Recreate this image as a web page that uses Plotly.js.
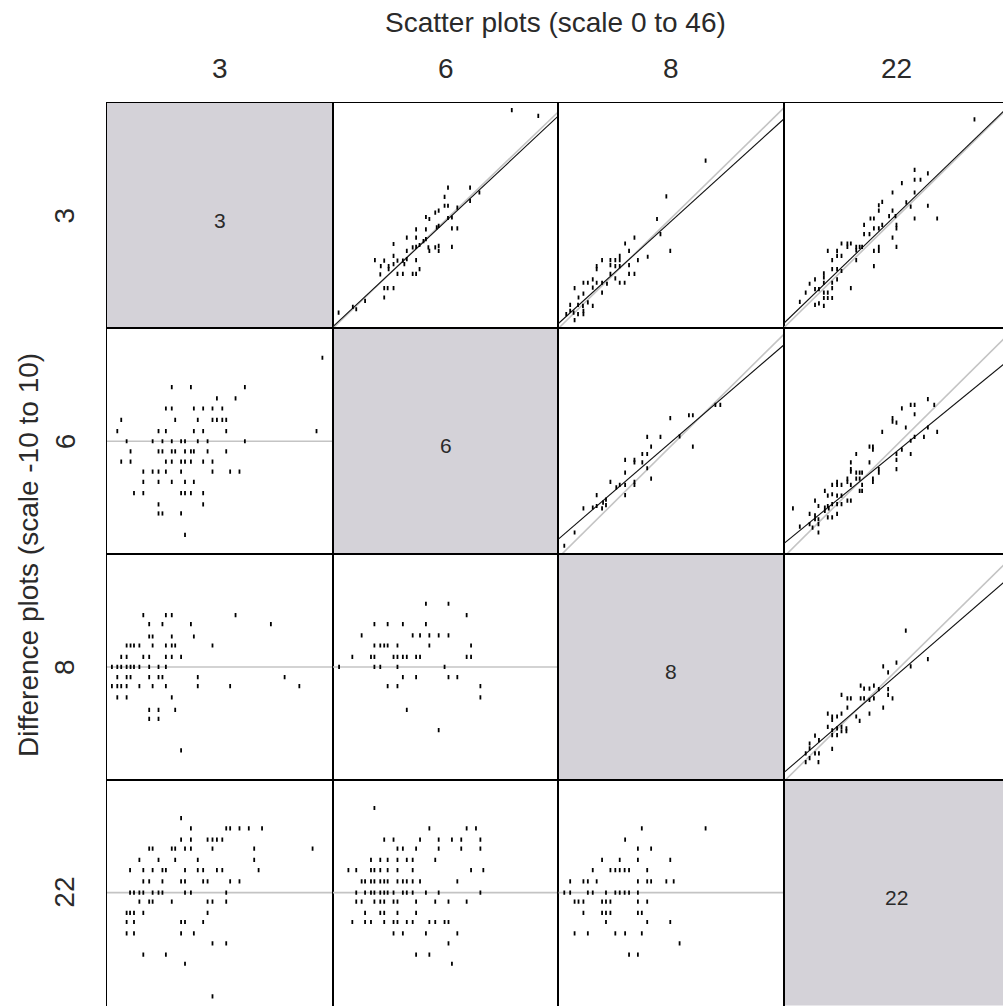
<!DOCTYPE html>
<html><head><meta charset="utf-8">
<script src="https://cdn.plot.ly/plotly-3.0.1.min.js"></script>
<style>html,body{margin:0;padding:0;overflow:hidden;background:#fff}#chart{width:1010px;height:1010px}</style>
</head><body><div id="chart"></div>
<script>
// ---------- labels ----------
const raters = ['3', '6', '8', '22'];
const topTitle = 'Scatter plots (scale 0 to 46)';
const sideTitle = 'Difference plots (scale -10 to 10)';
const scatterRange = [0, 46];
const diffRange = [-10, 10];

// ---------- scatter panels (upper triangle): [x, y] ----------
const sc_3_6 = [[36.5,44.5],[41.9,43.3],[23.5,28.7],[22.8,26.8],[22.8,25.0],[23.5,25.0],[28.0,28.7],[28.0,26.0],[29.9,27.7],[25.4,24.6],
[19.0,22.7],[19.7,22.3],[20.9,23.6],[21.6,24.0],[23.5,22.5],[24.3,22.6],[21.6,20.9],[21.2,20.6],[17.0,20.2],[17.0,18.5],
[19.0,20.2],[24.3,20.4],[25.4,20.4],[15.1,18.5],[12.4,17.2],[17.0,16.6],[17.7,17.0],[18.5,17.8],[19.0,18.2],[19.5,16.5],
[19.7,15.8],[16.3,16.5],[21.6,16.8],[21.6,15.8],[20.9,16.5],[24.3,16.6],[12.4,14.8],[15.1,15.8],[13.2,13.8],[14.3,13.8],
[14.6,13.1],[15.1,14.1],[8.6,13.9],[10.5,13.8],[9.8,12.7],[11.4,12.7],[11.4,12.1],[12.4,13.1],[9.7,11.0],[13.2,11.1],
[14.3,11.1],[16.3,11.1],[17.0,11.1],[17.7,12.1],[17.0,13.9],[10.5,8.2],[11.2,8.2],[12.4,8.2],[10.5,6.3],[1.2,3.2],
[4.1,4.4],[6.6,5.6],[4.8,3.9]];
const sc_3_8 = [[30.0,34.2],[22.0,26.9],[20.1,22.3],[20.8,19.2],[22.8,15.8],[15.5,18.5],[13.6,17.3],[18.2,14.6],[16.2,13.9],[14.4,15.8],
[12.5,14.8],[12.5,13.9],[11.6,13.9],[10.6,13.9],[10.6,12.9],[11.6,12.7],[12.5,12.7],[8.9,13.9],[7.8,12.7],[7.8,12.1],
[14.4,12.9],[14.4,11.1],[15.5,11.1],[10.6,11.1],[11.6,10.2],[12.5,9.3],[13.5,9.3],[7.0,10.0],[7.8,9.3],[8.9,9.3],
[6.0,9.3],[5.1,9.3],[8.9,7.3],[7.0,8.3],[3.3,8.2],[5.1,7.1],[4.1,6.3],[6.0,5.3],[7.0,4.6],[5.0,4.6],
[4.0,4.8],[2.4,4.8],[2.4,3.6],[3.1,3.2],[4.0,2.9],[5.1,2.9],[5.1,3.6],[3.3,1.7],[1.6,2.9],[9.9,9.1]];
const sc_3_22 = [[38.8,42.6],[26.6,32.3],[26.6,30.3],[27.8,30.3],[29.3,31.6],[24.0,29.6],[22.1,27.7],[26.6,27.7],[20.0,25.8],[19.3,25.1],
[19.3,24.0],[22.1,24.0],[21.4,22.9],[22.7,22.9],[24.9,25.7],[25.8,24.8],[29.3,25.0],[26.6,22.4],[31.2,22.4],[18.3,22.4],
[17.6,22.4],[16.3,21.1],[16.3,19.2],[17.4,19.2],[18.3,20.4],[19.3,20.4],[20.0,21.1],[22.9,21.1],[22.9,20.4],[22.1,18.5],
[22.9,16.6],[11.7,17.3],[12.9,17.3],[13.6,17.3],[12.9,16.6],[14.7,16.6],[15.4,16.6],[15.9,16.6],[14.7,15.9],[19.3,16.6],
[19.3,15.8],[18.3,15.8],[8.9,15.8],[10.8,15.8],[10.8,14.8],[11.7,14.8],[9.8,13.9],[14.7,13.9],[18.3,12.7],[10.8,12.1],
[9.8,12.1],[11.7,11.7],[8.1,11.2],[8.1,10.4],[6.3,10.0],[5.2,9.1],[10.8,10.0],[9.8,9.3],[8.1,9.3],[13.6,8.2],
[4.4,7.3],[6.3,8.0],[7.1,8.0],[8.1,7.3],[8.9,7.3],[9.8,8.2],[8.1,6.2],[8.9,6.2],[9.8,6.2],[3.2,5.4],
[6.3,4.8],[7.1,5.1],[8.1,4.6]];
const sc_6_8 = [[32.0,30.4],[33.0,30.4],[26.6,28.3],[27.4,28.3],[22.8,27.7],[27.4,21.9],[24.7,24.0],[20.8,23.9],[18.1,23.9],[18.9,21.9],
[17.1,20.4],[18.1,20.4],[13.6,19.2],[15.5,19.2],[15.5,18.7],[17.1,18.7],[18.1,17.5],[13.6,16.6],[18.9,15.4],[15.5,14.7],
[15.5,14.1],[10.6,14.7],[13.6,14.1],[11.8,13.6],[12.5,14.1],[13.6,12.0],[7.8,12.0],[9.7,11.1],[9.1,10.5],[9.7,10.0],
[8.9,9.3],[7.8,9.8],[7.0,9.5],[5.1,9.3],[3.3,4.4],[1.2,1.7]];
const sc_6_22 = [[29.3,31.6],[30.6,30.4],[24.0,29.7],[25.8,30.4],[26.6,30.4],[26.6,28.5],[22.1,27.7],[22.1,27.0],[22.9,26.8],[20.0,24.9],
[24.8,25.8],[29.3,25.8],[31.2,24.9],[28.5,23.9],[25.8,23.1],[26.6,23.9],[24.0,21.3],[25.8,20.4],[22.9,20.4],[22.9,19.2],
[22.9,17.3],[17.4,21.9],[18.1,21.9],[18.1,21.3],[14.7,20.4],[13.6,18.7],[13.6,17.3],[13.6,16.8],[17.4,18.7],[19.3,17.3],
[19.3,16.6],[14.7,16.6],[15.4,16.6],[15.9,16.6],[14.7,15.4],[15.4,15.4],[18.1,15.4],[18.1,14.7],[12.9,15.4],[12.9,14.7],
[13.6,14.1],[10.8,14.7],[10.8,14.1],[11.7,14.1],[15.9,14.1],[15.9,12.9],[15.4,12.9],[9.8,14.1],[8.3,12.9],[11.7,11.9],
[10.8,11.9],[9.8,12.2],[8.9,11.9],[12.9,10.9],[13.6,10.9],[6.3,10.9],[10.8,10.2],[11.7,10.2],[9.8,10.2],[8.9,9.8],
[8.3,9.5],[7.0,9.8],[8.3,8.8],[9.1,9.3],[8.9,7.5],[9.8,7.5],[10.8,8.2],[5.2,8.2],[6.3,7.9],[1.8,9.3],
[7.0,7.1],[6.3,7.1],[3.2,5.6],[5.2,6.1],[5.8,5.4],[7.0,6.1],[7.0,4.4]];
const sc_8_22 = [[24.8,30.4],[29.3,24.6],[22.9,23.9],[25.8,23.1],[20.2,23.1],[21.2,21.9],[15.6,19.2],[16.3,18.6],[17.4,18.6],[18.3,19.2],
[19.3,18.5],[21.2,18.5],[21.2,17.3],[22.1,16.6],[11.7,17.3],[12.9,16.6],[13.6,16.6],[15.6,16.6],[16.3,16.6],[17.4,16.3],
[18.3,16.6],[20.2,14.7],[12.9,14.7],[8.9,13.5],[9.8,12.9],[9.8,12.2],[11.7,13.5],[10.8,12.9],[14.7,12.9],[17.4,13.5],
[15.4,12.0],[8.9,10.8],[9.8,10.1],[10.8,10.5],[11.7,10.8],[12.7,10.5],[12.7,9.9],[11.7,9.9],[10.8,9.1],[9.8,9.1],
[6.3,9.0],[7.1,8.1],[5.2,7.4],[5.2,6.4],[4.4,5.4],[6.3,5.4],[7.1,5.4],[9.8,6.3],[4.4,3.6],[7.0,3.6],[5.2,4.4]];

// reference (grey) and fitted (black) lines: [intercept, slope]
const ref_3_6 = [0.0, 0.960],  fit_3_6 = [0.3, 0.935];
const ref_3_8 = [0.0, 0.978],  fit_3_8 = [1.0, 0.907];
const ref_3_22 = [0.2, 0.980], fit_3_22 = [1.1, 0.965];
const ref_6_8 = [-0.7, 0.990], fit_6_8 = [3.06, 0.861];
const ref_6_22 = [-0.53, 0.992], fit_6_22 = [2.2, 0.816];
const ref_8_22 = [-0.3, 0.985], fit_8_22 = [1.5, 0.865];

// ---------- difference panels (lower triangle): [mean, difference] ----------
const df_6_3 = [[43.9,7.4],[13.2,4.8],[17.1,4.8],[28.1,4.8],[22.4,3.8],[26.2,3.8],
[12.0,2.9],[13.2,2.9],[17.7,2.9],[19.6,2.9],[21.5,2.9],[23.5,2.9],
[2.9,1.9],[13.9,1.9],[18.5,1.9],[21.5,1.9],[22.4,1.9],[23.5,1.9],[24.3,1.9],
[2.1,0.9],[10.5,0.9],[12.0,0.9],[17.7,0.9],[19.6,0.9],[24.3,0.9],[42.7,0.9],
[4.0,0],[9.3,0],[11.3,0],[13.2,0],[15.1,0],[15.9,0],[18.5,0],[20.5,0],[28.1,0],
[4.8,-0.9],[10.5,-0.9],[11.3,-0.9],[13.2,-0.9],[13.9,-0.9],[15.9,-0.9],[17.1,-0.9],[17.7,-0.9],[20.5,-0.9],[24.3,-0.9],
[2.9,-1.8],[4.8,-1.8],[12.0,-1.8],[13.2,-1.8],[15.1,-1.8],[15.9,-1.8],[17.1,-1.8],[19.6,-1.8],[21.5,-1.8],
[7.4,-2.7],[9.3,-2.7],[10.5,-2.7],[12.0,-2.7],[15.1,-2.7],[21.5,-2.7],[25.1,-2.7],[27.0,-2.7],
[7.4,-3.6],[10.5,-3.6],[13.2,-3.6],[15.9,-3.6],[17.7,-3.6],
[5.5,-4.6],[7.4,-4.6],[15.1,-4.6],[15.9,-4.6],[17.1,-4.6],[19.6,-4.6],
[10.5,-5.6],[19.6,-5.6],[10.5,-6.4],[11.3,-6.4],[15.1,-6.4],[15.9,-8.3]];
const df_8_3 = [[7.4,4.6],[12.0,4.6],[13.2,4.6],[26.2,4.6],[8.6,3.8],[11.3,3.8],[17.1,3.8],[33.4,3.8],
[8.6,2.7],[9.3,2.7],[13.2,2.7],[17.7,2.7],
[4.0,1.9],[4.8,1.9],[5.5,1.9],[6.6,1.9],[9.3,1.9],[12.0,1.9],[13.2,1.9],[13.9,1.9],[21.5,1.9],
[2.9,0.9],[4.0,0.9],[7.4,0.9],[8.6,0.9],[12.0,0.9],[13.2,0.9],[15.1,0.9],
[1.0,0],[2.1,0],[2.9,0],[4.0,0],[4.8,0],[5.5,0],[6.6,0],[8.6,0],[10.5,0],[12.0,0],
[2.1,-0.9],[4.0,-0.9],[4.8,-0.9],[8.6,-0.9],[10.5,-0.9],[11.3,-0.9],[18.5,-0.9],[36.2,-0.9],
[1.0,-1.7],[2.1,-1.7],[2.9,-1.7],[4.0,-1.7],[6.6,-1.7],[9.3,-1.7],[12.0,-1.7],[18.5,-1.7],[25.1,-1.7],[39.2,-1.7],
[2.1,-2.7],[4.0,-2.7],[13.2,-2.7],[8.6,-3.8],[10.5,-3.8],[13.9,-3.8],[8.6,-4.6],[10.5,-4.6],[15.1,-7.4]];
const df_8_6 = [[19.0,5.6],[23.6,5.6],[27.3,4.6],[8.5,3.8],[11.2,3.8],[14.3,3.8],[19.0,3.8],
[5.9,2.8],[16.3,2.8],[17.8,2.8],[19.7,2.8],[21.6,2.8],[23.6,2.8],
[8.5,1.9],[9.7,1.9],[10.5,1.9],[11.2,1.9],[13.2,1.9],[19.7,1.9],[28.2,1.9],
[4.0,0.9],[7.8,0.9],[8.5,0.9],[12.4,0.9],[13.2,0.9],[14.3,0.9],[15.1,0.9],[17.0,0.9],[17.8,0.9],[27.3,0.9],[28.2,0.9],
[1.3,0],[8.5,0],[9.7,0],[13.2,0],[22.8,0],
[14.3,-0.9],[17.0,-0.9],[23.6,-0.9],[25.4,-0.9],[11.2,-1.7],[13.2,-1.7],[30.1,-1.7],
[30.1,-2.7],[15.1,-3.8],[21.6,-5.6]];
const df_22_3 = [[15.1,6.6],[17.1,5.7],[24.3,5.7],[25.1,5.7],[27.0,5.7],[28.9,5.7],[31.6,5.7],
[15.1,4.7],[17.1,4.7],[20.5,4.7],[21.5,4.7],[22.4,4.7],[23.5,4.7],
[8.6,3.9],[9.3,3.9],[13.2,3.9],[13.9,3.9],[15.9,3.9],[17.1,3.9],[21.5,3.9],[30.0,3.9],[41.9,3.9],
[6.6,2.9],[10.5,2.9],[13.9,2.9],[18.5,2.9],[30.0,2.9],
[4.7,2.0],[7.4,2.0],[9.3,2.0],[11.3,2.0],[12.0,2.0],[15.9,2.0],[18.5,2.0],[19.6,2.0],[22.4,2.0],[23.5,2.0],[30.9,2.0],
[7.4,1.0],[8.6,1.0],[11.3,1.0],[15.1,1.0],[15.9,1.0],[19.6,1.0],[20.5,1.0],[25.1,1.0],[27.0,1.0],
[4.7,0],[5.5,0],[6.6,0],[7.4,0],[9.3,0],[10.5,0],[11.3,0],[15.9,0],[17.1,0],[24.3,0],
[6.6,-0.8],[8.6,-0.8],[9.3,-0.8],[13.2,-0.8],[20.5,-0.8],[21.5,-0.8],[24.3,-0.8],
[4.0,-1.8],[4.7,-1.8],[5.5,-1.8],[7.4,-1.8],[20.5,-1.8],
[4.0,-2.6],[5.5,-2.6],[15.1,-2.6],[15.9,-2.6],[19.6,-2.6],
[4.0,-3.6],[5.5,-3.6],[15.1,-3.6],[17.7,-3.6],
[21.5,-4.5],[24.3,-4.5],[7.4,-5.5],[12.0,-5.5],[15.9,-6.3],[21.5,-9.2]];
const df_22_6 = [[8.5,7.5],[19.7,5.7],[27.3,5.7],[29.2,5.7],
[10.5,4.7],[12.4,4.7],[17.8,4.7],[21.6,4.7],[24.3,4.7],[26.2,4.7],[30.1,4.7],
[13.2,3.9],[14.3,3.9],[17.0,3.9],[21.6,3.9],[26.2,3.9],[30.1,3.9],
[7.8,2.9],[9.7,2.9],[11.2,2.9],[13.2,2.9],[15.1,2.9],[16.3,2.9],[20.9,2.9],
[3.2,2.0],[4.8,2.0],[7.8,2.0],[8.5,2.0],[9.7,2.0],[11.2,2.0],[13.2,2.0],[16.3,2.0],[28.2,2.0],[30.7,2.0],
[5.9,1.0],[6.6,1.0],[7.8,1.0],[8.5,1.0],[9.7,1.0],[10.5,1.0],[11.2,1.0],[13.2,1.0],[14.3,1.0],[15.1,1.0],[16.3,1.0],[17.8,1.0],[25.4,1.0],
[4.8,0],[6.6,0],[7.8,0],[8.5,0],[9.7,0],[10.5,0],[11.2,0],[12.4,0],[14.3,0],[15.1,0],[16.3,0],[19.0,0],[21.6,0],[30.1,0],
[4.8,-0.8],[5.9,-0.8],[8.5,-0.8],[9.7,-0.8],[10.5,-0.8],[12.4,-0.8],[13.2,-0.8],[17.0,-0.8],[20.9,-0.8],[23.6,-0.8],[27.3,-0.8],
[6.6,-1.8],[9.7,-1.8],[10.5,-1.8],[13.2,-1.8],[17.0,-1.8],
[4.0,-2.6],[6.6,-2.6],[7.8,-2.6],[10.5,-2.6],[12.4,-2.6],[13.2,-2.6],[15.1,-2.6],[16.3,-2.6],[19.7,-2.6],[20.9,-2.6],[22.8,-2.6],[23.6,-2.6],
[12.4,-3.6],[14.3,-3.6],[19.0,-3.6],[25.4,-3.6],[23.6,-4.5],[17.0,-5.5],[19.7,-5.5],[24.3,-6.3]];
const df_22_8 = [[17.0,5.7],[30.0,5.7],[13.6,4.7],[16.2,3.9],[18.9,3.9],
[8.9,2.9],[12.5,2.9],[16.2,2.9],[22.8,2.9],
[7.0,2.0],[10.6,2.0],[11.6,2.0],[12.5,2.0],[13.5,2.0],[14.4,2.0],[18.1,2.0],
[2.4,1.0],[5.1,1.0],[6.0,1.0],[7.8,1.0],[16.2,1.0],[18.1,1.0],[18.9,1.0],[22.0,1.0],[23.5,1.0],
[1.2,0],[2.4,0],[6.0,0],[7.0,0],[9.7,0],[11.6,0],[12.5,0],[13.5,0],[14.4,0],[16.2,0],
[3.3,-0.8],[4.1,-0.8],[5.1,-0.8],[8.9,-0.8],[9.7,-0.8],[10.6,-0.8],[16.2,-0.8],[18.1,-0.8],
[5.1,-1.8],[8.9,-1.8],[9.7,-1.8],[10.6,-1.8],[16.2,-1.8],[17.0,-1.8],
[9.7,-2.6],[18.1,-2.6],[22.8,-2.6],
[3.3,-3.6],[6.0,-3.6],[11.6,-3.6],[13.6,-3.6],[17.0,-3.6],
[24.7,-4.5],[14.4,-5.5],[16.2,-5.5]];

// ---------- build ----------
const scatterPanels = [
  {r:0,c:1,pts:sc_3_6,ref:ref_3_6,fit:fit_3_6},
  {r:0,c:2,pts:sc_3_8,ref:ref_3_8,fit:fit_3_8},
  {r:0,c:3,pts:sc_3_22,ref:ref_3_22,fit:fit_3_22},
  {r:1,c:2,pts:sc_6_8,ref:ref_6_8,fit:fit_6_8},
  {r:1,c:3,pts:sc_6_22,ref:ref_6_22,fit:fit_6_22},
  {r:2,c:3,pts:sc_8_22,ref:ref_8_22,fit:fit_8_22}
];
const diffPanels = [
  {r:1,c:0,pts:df_6_3},{r:2,c:0,pts:df_8_3},{r:2,c:1,pts:df_8_6},
  {r:3,c:0,pts:df_22_3},{r:3,c:1,pts:df_22_6},{r:3,c:2,pts:df_22_8}
];

const W = 1010, H = 1010;
const cellLeft = 107, cellTop = 102.7, cell = 225.7;
const FONT = 'Liberation Sans, Arial, sans-serif';
const TXT = '#2a2a2a';

function ax(r, c) { const k = r*4 + c + 1; return {k, x: k===1?'x':'x'+k, y: k===1?'y':'y'+k}; }

const layout = {
  width: W, height: H, margin: {l:0, r:0, t:0, b:0},
  paper_bgcolor: '#fff', plot_bgcolor: '#fff',
  showlegend: false, hovermode: false,
  shapes: [], annotations: []
};
const traces = [];
const markerStyle = {symbol: 'line-ns-open', size: 3, color: '#000', line: {width: 1.8, color: '#000'}};

for (let r = 0; r < 4; r++) {
  for (let c = 0; c < 4; c++) {
    const a = ax(r, c);
    const x0 = cellLeft + c*cell, y0 = cellTop + r*cell;
    const isDiff = r > c;
    const common = {showgrid:false, zeroline:false, showticklabels:false, ticks:'',
                    showline:true, mirror:true, linecolor:'#000', linewidth:1, fixedrange:true};
    layout['xaxis' + (a.k===1?'':a.k)] = Object.assign({}, common, {
      domain: [x0/W, Math.min(1, (x0+cell)/W)], anchor: a.y, range: scatterRange.slice()});
    layout['yaxis' + (a.k===1?'':a.k)] = Object.assign({}, common, {
      domain: [1 - (y0+cell)/H, 1 - y0/H], anchor: a.x, range: isDiff ? diffRange.slice() : scatterRange.slice()});
    if (r === c) {
      traces.push({type:'scatter', x:[], y:[], xaxis:a.x, yaxis:a.y});
      layout.shapes.push({type:'rect', xref:a.x+' domain', yref:a.y+' domain', x0:0, x1:1, y0:0, y1:1,
        fillcolor:'#d4d2d8', line:{width:0}, layer:'below'});
      layout.annotations.push({xref:a.x+' domain', yref:a.y+' domain', x:0.5, y:0.48, text:raters[r],
        showarrow:false, xanchor:'center', yanchor:'middle', font:{family:FONT, size:21, color:TXT}});
    }
  }
}

scatterPanels.forEach(p => {
  const a = ax(p.r, p.c);
  const xs = [scatterRange[0], scatterRange[1]];
  traces.push({type:'scatter', mode:'lines', x:xs, y:xs.map(v => p.ref[0] + p.ref[1]*v),
    xaxis:a.x, yaxis:a.y, line:{color:'#c4c4c4', width:1.6}});
  traces.push({type:'scatter', mode:'lines', x:xs, y:xs.map(v => p.fit[0] + p.fit[1]*v),
    xaxis:a.x, yaxis:a.y, line:{color:'#111', width:1.1}});
  traces.push({type:'scatter', mode:'markers', x:p.pts.map(q => q[0]), y:p.pts.map(q => q[1]),
    xaxis:a.x, yaxis:a.y, marker:markerStyle, cliponaxis:true});
});

diffPanels.forEach(p => {
  const a = ax(p.r, p.c);
  traces.push({type:'scatter', mode:'lines', x:[scatterRange[0], scatterRange[1]], y:[0, 0],
    xaxis:a.x, yaxis:a.y, line:{color:'#c4c4c4', width:1.6}});
  traces.push({type:'scatter', mode:'markers', x:p.pts.map(q => q[0]), y:p.pts.map(q => q[1]),
    xaxis:a.x, yaxis:a.y, marker:markerStyle, cliponaxis:true});
});

// titles and rater labels
const OUT = 28;
layout.annotations.push({xref:'paper', yref:'paper', x:555/W, y:1 - 22/H, text:topTitle, showarrow:false,
  xanchor:'center', yanchor:'middle', font:{family:FONT, size:OUT, color:TXT}});
layout.annotations.push({xref:'paper', yref:'paper', x:28/W, y:1 - 555/H, text:sideTitle, showarrow:false, textangle:-90,
  xanchor:'center', yanchor:'middle', font:{family:FONT, size:OUT, color:TXT}});
raters.forEach((t, i) => {
  const center = i*cell + cell/2;
  layout.annotations.push({xref:'paper', yref:'paper', x:(cellLeft + center)/W, y:1 - 68/H, text:t, showarrow:false,
    xanchor:'center', yanchor:'middle', font:{family:FONT, size:OUT, color:TXT}});
  layout.annotations.push({xref:'paper', yref:'paper', x:65/W, y:1 - (cellTop + center)/H, text:t, showarrow:false, textangle:-90,
    xanchor:'center', yanchor:'middle', font:{family:FONT, size:OUT, color:TXT}});
});

Plotly.newPlot('chart', traces, layout, {staticPlot:true, displayModeBar:false});
</script>
</body></html>
